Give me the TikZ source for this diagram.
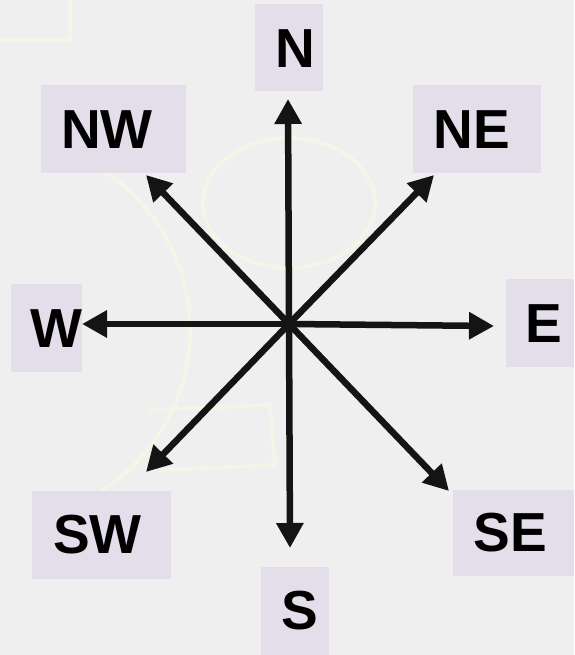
\documentclass[tikz,border=0pt]{standalone}
\usepackage{fontspec}
\setmainfont{Liberation Sans}
\usetikzlibrary{arrows.meta}
\definecolor{bg}{HTML}{F0EFEF}
\definecolor{boxfill}{HTML}{E3DEEA}
\definecolor{ghost}{HTML}{F5F4E8}
\tikzset{
  lbl/.style={font=\fontsize{55}{55}\selectfont\bfseries, inner sep=0pt, text=black},
  boxbg/.style={fill=boxfill, draw=none, inner sep=0pt},
  dirarrow/.style={line width=6.5pt, draw=black!92, -{Triangle[length=25pt,width=26pt]}},
  ghostline/.style={draw=ghost, line width=4pt}
}
\begin{document}
\begin{tikzpicture}[x=1pt,y=-1pt]
  \fill[bg] (0,0) rectangle (574,655);
  \useasboundingbox (0,0) rectangle (574,655);
  % faint background sketches
  \draw[ghostline] (289,203) ellipse [x radius=86, y radius=65];
  \draw[ghostline] (0,330) ++(-60:190) arc [start angle=-60, end angle=60, radius=190];
  \draw[ghostline] (0,40) -- (70,40) -- (70,0);
  \draw[ghostline] (150,410) -- (270,405) -- (275,465) -- (160,470);
  % label boxes
  \node[boxbg, minimum width=68pt, minimum height=87pt] (Nbox) at (289,47.5) {};
  \node[boxbg, minimum width=145pt, minimum height=88pt] (NWbox) at (113.5,129) {};
  \node[boxbg, minimum width=128pt, minimum height=88pt] (NEbox) at (477,129) {};
  \node[boxbg, minimum width=71pt, minimum height=88pt] (Wbox) at (46.5,328) {};
  \node[boxbg, minimum width=68pt, minimum height=88pt] (Ebox) at (540,323) {};
  \node[boxbg, minimum width=139pt, minimum height=88pt] (SWbox) at (101.5,535) {};
  \node[boxbg, minimum width=121pt, minimum height=86pt] (SEbox) at (513.5,533) {};
  \node[boxbg, minimum width=68pt, minimum height=88pt] (Sbox) at (295,611) {};
  % labels
  \node[lbl] (N) at (295,49) {N};
  \node[lbl] (NW) at (107,129.5) {NW};
  \node[lbl] (NE) at (472,129.5) {NE};
  \node[lbl] (W) at (56,329) {W};
  \node[lbl] (E) at (544,324) {E};
  \node[lbl] (SW) at (97.5,535) {SW};
  \node[lbl] (SE) at (510,532.5) {SE};
  \node[lbl] (S) at (299.5,611) {S};
  % arrows
  \coordinate (O) at (289,324);
  \coordinate (tN) at (288,99);
  \coordinate (tS) at (290,548);
  \coordinate (tW) at (82,324);
  \coordinate (tE) at (494,326);
  \coordinate (tNW) at (146,175);
  \coordinate (tNE) at (434,175);
  \coordinate (tSW) at (146,472);
  \coordinate (tSE) at (449,491);
  \foreach \t in {tN,tS,tW,tE,tNW,tNE,tSW,tSE}
    \draw[dirarrow] (O) -- (\t);
\end{tikzpicture}
\end{document}
